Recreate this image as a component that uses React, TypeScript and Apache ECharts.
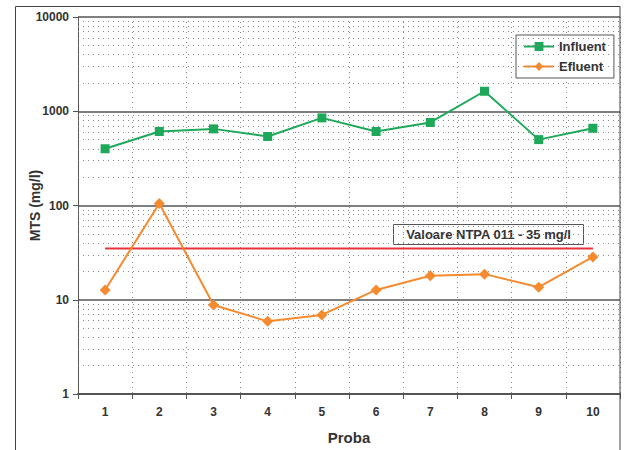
import React, { useEffect, useRef } from "react";
import * as echarts from "echarts";

const categories = ["1", "2", "3", "4", "5", "6", "7", "8", "9", "10"];
const influent = [400, 610, 650, 540, 850, 610, 760, 1630, 500, 660];
const efluent = [12.7, 105, 8.8, 5.9, 6.9, 12.7, 18, 18.7, 13.6, 28.5];
const ntpaLimit = 35;
const ntpaLabel = "Valoare NTPA 011 - 35 mg/l";
const decades = [1, 10, 100, 1000];
const minorMultiples = [2, 3, 4, 5, 6, 7, 8, 9];

const FONT = "'Liberation Sans', Arial, sans-serif";
const TEXT = "#333333";

export default function App() {
  const ref = useRef<HTMLDivElement>(null);
  useEffect(() => {
    if (!ref.current) return;
    const chart = echarts.init(ref.current, null, { renderer: "svg" });
    const minorLines: number[] = [];
    decades.forEach((d) => minorMultiples.forEach((m) => minorLines.push(d * m)));
    chart.setOption({
      animation: false,
      backgroundColor: "#ffffff",
      textStyle: { fontFamily: FONT },
      grid: { left: 78, right: 4, top: 17, bottom: 55, containLabel: false },
      legend: {
        orient: "vertical",
        left: 516,
        top: 35,
        width: 86,
        padding: [5, 8, 5, 7],
        itemGap: 7,
        itemWidth: 30,
        itemHeight: 11,
        borderColor: "#555555",
        borderWidth: 1,
        backgroundColor: "#ffffff",
        data: ["Influent", "Efluent"],
        textStyle: { fontFamily: FONT, fontWeight: "bold", fontSize: 13, color: TEXT },
      },
      xAxis: {
        type: "category",
        data: categories,
        boundaryGap: true,
        name: "Proba",
        nameLocation: "middle",
        nameGap: 36,
        nameMoveOverlap: false,
        nameTextStyle: { fontFamily: FONT, fontWeight: "bold", fontSize: 15, color: TEXT },
        axisLine: { lineStyle: { color: "#555555", width: 2 } },
        axisTick: { show: true, alignWithLabel: false, length: 5, lineStyle: { color: "#555555" } },
        axisLabel: { fontFamily: FONT, fontWeight: "bold", fontSize: 12, color: TEXT, margin: 12 },
        splitLine: { show: true, lineStyle: { color: "#888888", type: [1, 4], width: 1 } },
      },
      yAxis: {
        type: "log",
        logBase: 10,
        min: 1,
        max: 10000,
        name: "MTS (mg/l)",
        nameLocation: "middle",
        nameGap: 36,
        nameMoveOverlap: false,
        nameTextStyle: { fontFamily: FONT, fontWeight: "bold", fontSize: 14, color: TEXT },
        axisLine: { show: true, lineStyle: { color: "#555555", width: 1 } },
        axisTick: { show: true, length: 5, lineStyle: { color: "#555555" } },
        axisLabel: {
          fontFamily: FONT,
          fontWeight: "bold",
          fontSize: 12,
          color: TEXT,
          margin: 9,
          formatter: (v: number) => String(Math.round(v)),
        },
        splitLine: { show: true, lineStyle: { color: "#555555", width: 1.5 } },
      },
      graphic: [
        {
          type: "rect",
          shape: { x: 15.5, y: 6.5, width: 604.5, height: 460 },
          style: { fill: "none", stroke: "#444444", lineWidth: 1 },
          silent: true,
          z: 100,
        },
        {
          type: "group",
          left: 393,
          top: 224,
          z: 100,
          children: [
            {
              type: "rect",
              shape: { x: 0, y: 0, width: 190, height: 20 },
              style: { fill: "#ffffff", stroke: "#555555", lineWidth: 1 },
            },
            {
              type: "text",
              x: 95,
              y: 10,
              style: {
                text: ntpaLabel,
                fontFamily: FONT,
                fontWeight: "bold",
                fontSize: 13,
                fill: TEXT,
                align: "center",
                verticalAlign: "middle",
              },
            },
          ],
        },
      ],
      series: [
        {
          name: "grid-minor",
          type: "line",
          data: [],
          silent: true,
          z: 1,
          markLine: {
            silent: true,
            symbol: ["none", "none"],
            label: { show: false },
            animation: false,
            lineStyle: { color: "#888888", type: [1, 4], width: 1 },
            data: minorLines.map((v) => ({ yAxis: v })),
          },
        },
        {
          name: "NTPA",
          type: "line",
          data: categories.map(() => ntpaLimit),
          showSymbol: false,
          symbol: "none",
          lineStyle: { color: "#e8333a", width: 2 },
          z: 3,
          silent: true,
        },
        {
          name: "Influent",
          type: "line",
          data: influent,
          symbol: "rect",
          symbolSize: 9,
          itemStyle: { color: "#1ea95a" },
          lineStyle: { color: "#1ea95a", width: 2 },
          z: 5,
        },
        {
          name: "Efluent",
          type: "line",
          data: efluent,
          symbol: "diamond",
          symbolSize: 11,
          itemStyle: { color: "#f58a2e" },
          lineStyle: { color: "#f58a2e", width: 2 },
          z: 5,
        },
      ],
    });
    return () => chart.dispose();
  }, []);
  return (
    <div
      ref={ref}
      style={{ position: "fixed", left: 0, top: 0, width: 624, height: 450 }}
    />
  );
}
